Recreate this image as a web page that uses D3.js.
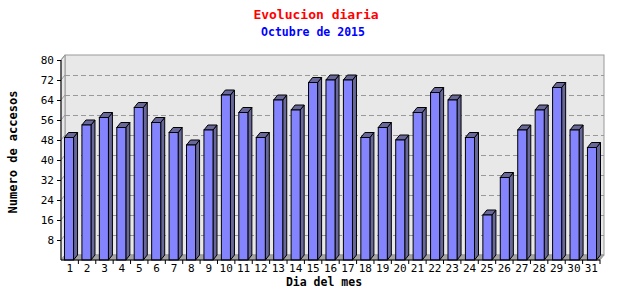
<!DOCTYPE html>
<html>
<head>
<meta charset="utf-8">
<script src="https://cdn.jsdelivr.net/npm/d3@7"></script>
<style>
  body { margin: 0; background: #fff; }
  text { font-family: "DejaVu Sans Mono", monospace; }
</style>
</head>
<body>
<div id="chart"></div>
<script>
// visits per day, October 2015
const days = d3.range(1, 32).map(String);
const visits = [49, 54, 57, 53, 61, 55, 51, 46, 52, 66, 59, 49, 64, 60, 71, 72,
                72, 49, 53, 48, 59, 67, 64, 49, 18, 33, 52, 60, 69, 52, 45];
const yTicks = [8, 16, 24, 32, 40, 48, 56, 64, 72, 80];

const W = 640, H = 300;
const pLeft = 61, pRight = 600, pTop = 60, pBottom = 260;
const dx = 4, dy = 5; // depth of the 3d effect

const svg = d3.select('#chart').append('svg')
  .attr('width', W).attr('height', H);

const x = d3.scaleBand().domain(days).range([pLeft, pRight]).paddingInner(0.48).paddingOuter(0.2);
const slot = d3.scaleBand().domain(days).range([pLeft, pRight]);
const y = d3.scaleLinear().domain([0, 80]).range([pBottom, pTop]);

// back wall
svg.append('rect')
  .attr('x', pLeft + dx).attr('y', pTop - dy)
  .attr('width', pRight - pLeft).attr('height', pBottom - pTop)
  .attr('fill', '#e8e8e8').attr('stroke', '#999');

// left wall
svg.append('path')
  .attr('d', `M${pLeft},${pBottom}L${pLeft},${pTop}L${pLeft + dx},${pTop - dy}L${pLeft + dx},${pBottom - dy}Z`)
  .attr('fill', '#e8e8e8').attr('stroke', '#999');

// floor
svg.append('path')
  .attr('d', `M${pLeft},${pBottom}L${pRight},${pBottom}L${pRight + dx},${pBottom - dy}L${pLeft + dx},${pBottom - dy}Z`)
  .attr('fill', '#a4a4a4').attr('stroke', '#999');

// grid lines on back wall + diagonals on left wall
const grid = svg.append('g');
grid.selectAll('line.g')
  .data(yTicks.filter(d => d < 80))
  .join('line')
  .attr('class', 'g')
  .attr('x1', pLeft + dx).attr('x2', pRight + dx)
  .attr('y1', d => y(d) - dy + 0.5).attr('y2', d => y(d) - dy + 0.5)
  .attr('stroke', '#999').attr('stroke-dasharray', '5,3');
grid.selectAll('line.d')
  .data(yTicks)
  .join('line')
  .attr('class', 'd')
  .attr('x1', pLeft).attr('x2', pLeft + dx)
  .attr('y1', d => y(d)).attr('y2', d => y(d) - dy)
  .attr('stroke', '#999');

// bars
const bars = svg.append('g').selectAll('g')
  .data(visits)
  .join('g');

bars.append('path')
  .attr('d', (d, i) => {
    const x1 = x(days[i]) + x.bandwidth(), yt = y(d);
    return `M${x1},${yt}L${x1 + dx},${yt - dy}L${x1 + dx},${pBottom - dy}L${x1},${pBottom}Z`;
  })
  .attr('fill', '#676799').attr('stroke', '#000');

bars.append('path')
  .attr('d', (d, i) => {
    const x0 = x(days[i]), x1 = x0 + x.bandwidth(), yt = y(d);
    return `M${x0},${yt}L${x0 + dx},${yt - dy}L${x1 + dx},${yt - dy}L${x1},${yt}Z`;
  })
  .attr('fill', '#676799').attr('stroke', '#000');

bars.append('rect')
  .attr('x', (d, i) => x(days[i]))
  .attr('y', d => y(d))
  .attr('width', x.bandwidth())
  .attr('height', d => pBottom - y(d))
  .attr('fill', '#8484ff').attr('stroke', '#000');

// axes
const yAxis = svg.append('g')
  .attr('transform', `translate(${pLeft},0)`)
  .call(d3.axisLeft(y).tickValues(yTicks).tickSize(4).tickPadding(3));
yAxis.select('.domain').attr('d', `M0,${pTop}V${pBottom}`);
yAxis.selectAll('text').style('font-size', '11px').attr('fill', '#000');

const xAxis = svg.append('g')
  .attr('transform', `translate(0,${pBottom})`)
  .call(d3.axisBottom(slot).tickSize(0).tickPadding(4));
xAxis.select('.domain').attr('d', `M${pLeft},0H${pRight}`);
xAxis.selectAll('text').style('font-size', '11px').attr('fill', '#000');
xAxis.selectAll('line.sep')
  .data(days)
  .join('line')
  .attr('class', 'sep')
  .attr('x1', d => slot(d) + slot.bandwidth()).attr('x2', d => slot(d) + slot.bandwidth())
  .attr('y1', 0).attr('y2', 4)
  .attr('stroke', '#000');

// titles
svg.append('text')
  .attr('x', 316).attr('y', 19)
  .attr('text-anchor', 'middle')
  .style('font-size', '13px').style('font-weight', 'bold')
  .attr('fill', '#ff0000')
  .text('Evolucion diaria');

svg.append('text')
  .attr('x', 313).attr('y', 36)
  .attr('text-anchor', 'middle')
  .style('font-size', '11.5px').style('font-weight', 'bold')
  .attr('fill', '#0000ff')
  .text('Octubre de 2015');

svg.append('text')
  .attr('x', 324).attr('y', 286)
  .attr('text-anchor', 'middle')
  .style('font-size', '11.5px').style('font-weight', 'bold')
  .text('Dia del mes');

svg.append('text')
  .attr('transform', 'translate(17,152) rotate(-90)')
  .attr('text-anchor', 'middle')
  .style('font-size', '12px').style('font-weight', 'bold')
  .text('Numero de accesos');
</script>
</body>
</html>
